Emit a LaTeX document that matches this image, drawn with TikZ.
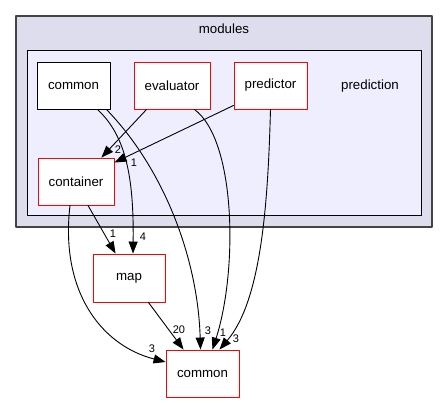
\documentclass[tikz,border=0pt]{standalone}
\usepackage{fontspec}
\setmainfont{Liberation Sans}
\usetikzlibrary{arrows.meta}
\definecolor{outerfill}{HTML}{DDDDEE}
\definecolor{innerfill}{HTML}{EEEEFF}
\definecolor{outerline}{HTML}{444444}
\begin{document}
\begin{tikzpicture}[x=1pt,y=-1pt,line cap=round,line join=round,
		dir/.style={draw=red,fill=white,line width=0.9pt,inner sep=0pt,minimum height=47pt,font=\fontsize{13.3}{15}\selectfont},
		plain/.style={dir,draw=black},
		dep/.style={-{Triangle[length=12pt,width=9pt]},line width=0.9pt},
		elabel/.style={inner sep=0pt,font=\fontsize{11}{12}\selectfont},
		clabel/.style={inner sep=0pt,font=\fontsize{13.3}{15}\selectfont}]
				\useasboundingbox (0,0) rectangle (448,403);
				% clusters
				\draw [fill=outerfill,draw=outerline,line width=1.6pt] (16,16) rectangle (432,227);
				\node [clabel] (modules) at (224,29) {modules};
				\draw [fill=innerfill,line width=1pt] (27,51) rectangle (421,216);
				\node [clabel] (prediction) at (370,86) {prediction};
				% directories
				\node [plain,minimum width=73pt] (commonin) at (73.5,85.5) {common};
				\node [dir,minimum width=76pt] (evaluator) at (172,85.5) {evaluator};
				\node [dir,minimum width=73pt] (predictor) at (270.5,85.5) {predictor};
				\node [dir,minimum width=76pt] (container) at (76,181.5) {container};
				\node [dir,minimum width=72pt,minimum height=48pt] (map) at (129,278) {map};
				\node [dir,minimum width=73pt] (commonout) at (202.5,373.5) {common};
				% dependencies
				\draw [dep] ([xshift=13pt]evaluator.south west) -- ([xshift=-13pt]container.north east);
				\draw [dep] ([yshift=4pt]predictor.south west) -- ([yshift=-5pt]container.north east);
				\draw [dep] ([xshift=-13pt]commonin.south east) .. controls (125,135) and (134,175) .. ([xshift=4pt]map.north);
				\draw [dep] ([xshift=-4pt]commonin.south east) .. controls (165,170) and (198,260) .. ([xshift=-2pt]commonout.north);
				\draw [dep] ([xshift=-16pt]evaluator.south east) .. controls (236,140) and (238,270) .. ([xshift=10pt]commonout.north);
				\draw [dep] (predictor.south) .. controls (268,200) and (262,300) .. ([xshift=17pt]commonout.north);
				\draw [dep] ([xshift=12pt]container.south) -- ([xshift=23pt]map.north west);
				\draw [dep] ([xshift=-6pt]container.south) .. controls (60,290) and (100,345) .. ([yshift=11.5pt]commonout.west);
				\draw [dep] ([xshift=-17pt]map.south east) -- ([xshift=18pt]commonout.north west);
				% counts
				\node [elabel] (n2) at (118,150) {2};
				\node [elabel] (n1a) at (134,163) {1};
				\node [elabel] (n4) at (143,237) {4};
				\node [elabel] (n1b) at (113,234) {1};
				\node [elabel] (n20) at (179,330) {20};
				\node [elabel] (n3a) at (208,331) {3};
				\node [elabel] (n1c) at (223,333) {1};
				\node [elabel] (n3b) at (236,339) {3};
				\node [elabel] (n3c) at (152,349) {3};
			\end{tikzpicture}
\end{document}
